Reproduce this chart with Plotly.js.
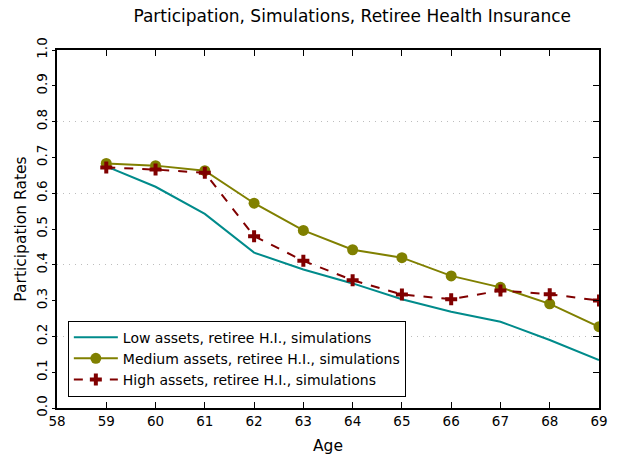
<!DOCTYPE html>
<html>
<head>
<meta charset="utf-8">
<script src="https://cdn.plot.ly/plotly-3.0.1.min.js"></script>
<style>html,body{margin:0;padding:0;background:#fff;}#chart{width:618px;height:461px;}</style>
</head>
<body>
<div id="chart"></div>
<script>
const ages = [59, 60, 61, 62, 63, 64, 65, 66, 67, 68, 69];
const lowAssets = [0.675, 0.618, 0.542, 0.434, 0.387, 0.348, 0.304, 0.269, 0.241, 0.190, 0.134];
const mediumAssets = [0.683, 0.677, 0.663, 0.572, 0.496, 0.442, 0.420, 0.369, 0.337, 0.291, 0.227];
const highAssets = [0.672, 0.666, 0.657, 0.480, 0.411, 0.357, 0.317, 0.304, 0.328, 0.318, 0.300];
const seriesNames = [
  "Low assets, retiree H.I., simulations",
  "Medium assets, retiree H.I., simulations",
  "High assets, retiree H.I., simulations"
];
const xTicks = [58, 59, 60, 61, 62, 63, 64, 65, 66, 67, 68, 69];

const FONT = "DejaVu Sans, sans-serif";

const traces = [
  {x: ages, y: lowAssets, name: seriesNames[0], mode: "lines",
   line: {color: "#008b8b", width: 2}},
  {x: ages, y: mediumAssets, name: seriesNames[1], mode: "lines+markers",
   line: {color: "#808000", width: 2},
   marker: {symbol: "circle", size: 11, color: "#808000"}},
  {x: ages, y: highAssets, name: seriesNames[2], mode: "lines+markers",
   line: {color: "#800000", width: 2, dash: "dash"},
   marker: {symbol: "cross", size: 10, color: "#800000"}},
  {x: [], y: [], yaxis: "y2", showlegend: false, hoverinfo: "skip", mode: "lines"}
];

const layout = {
  width: 618, height: 461,
  paper_bgcolor: "#fff", plot_bgcolor: "#fff",
  margin: {l: 57, r: 19, t: 50, b: 53},
  font: {family: FONT, size: 12, color: "#000"},
  title: {text: "Participation, Simulations, Retiree Health Insurance",
          font: {family: FONT, size: 17, color: "#000"},
          x: 0.570, xanchor: "center", y: 0.965, yanchor: "middle"},
  showlegend: true,
  legend: {x: 0.02, y: 0.032, xanchor: "left", yanchor: "bottom",
           bgcolor: "#fff", bordercolor: "#000", borderwidth: 1,
           font: {family: FONT, size: 14, color: "#000"},
           tracegroupgap: 0, itemwidth: 44},
  xaxis: {range: [58, 69], tickvals: xTicks, ticktext: xTicks.map(String),
          showgrid: false, zeroline: false,
          showline: true, linecolor: "#000", linewidth: 2, mirror: "ticks",
          ticks: "inside", ticklen: 6, tickwidth: 1, tickcolor: "#000",
          tickfont: {family: FONT, size: 13.5},
          title: {text: "Age", font: {family: FONT, size: 15.5}, standoff: 12}},
  yaxis: {range: [0, 1], dtick: 0.1, tick0: 0, tickformat: ".1f",
          showgrid: false, zeroline: false,
          showline: true, linecolor: "#000", linewidth: 2,
          ticks: "outside", ticklen: 3, tickwidth: 1, tickcolor: "#000",
          tickangle: -90, tickfont: {family: FONT, size: 13.5},
          title: {text: "Participation Rates", font: {family: FONT, size: 15.5}, standoff: 3}},
  yaxis2: {range: [0, 1], overlaying: "y", side: "right", dtick: 0.2, tick0: 0,
           showgrid: true, gridcolor: "#bdbdbd", griddash: "1px,5px", gridwidth: 1,
           zeroline: false, showticklabels: false,
           showline: true, linecolor: "#000", linewidth: 2,
           ticks: "inside", ticklen: 6, tickwidth: 1, tickcolor: "#000",
           minor: {dtick: 0.1, ticks: "inside", ticklen: 6, tickwidth: 1, tickcolor: "#000", showgrid: false}}
};

Plotly.newPlot("chart", traces, layout, {displayModeBar: false, staticPlot: true});
</script>
</body>
</html>
